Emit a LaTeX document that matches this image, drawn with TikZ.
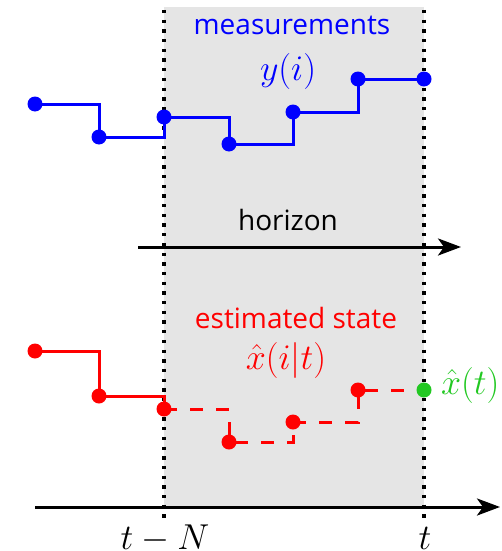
\RequirePackage{fix-cm}
\documentclass[tikz,border=0pt]{standalone}
\usepackage{fontspec}
\newfontfamily\sansfnt{Open Sans}
\usetikzlibrary{arrows.meta}
\definecolor{mygreen}{RGB}{34,200,34}
\definecolor{winfill}{RGB}{229,229,229}
\tikzset{
  dotpt/.style={circle, fill=#1, inner sep=0pt, minimum size=15pt},
  stepline/.style={draw=#1, line width=3pt},
  guide/.style={line width=3.3pt, dash pattern=on 3.3pt off 6.4pt},
  axisline/.style={line width=3pt, -{Stealth[length=23pt,width=17pt,inset=6pt]}},
  txt/.style={font=\sansfnt\fontsize{28}{34}\selectfont, anchor=base, inner sep=0pt},
  mth/.style={font=\fontsize{36}{43}\selectfont, anchor=base, inner sep=0pt}
}
\begin{document}
\begin{tikzpicture}[x=1pt,y=-1pt]
\useasboundingbox (0,0) rectangle (502,551);
% horizon window
\fill[winfill] (164,7) rectangle (424,507);
\coordinate (gl1) at (164,10); \coordinate (gl2) at (164,520);
\coordinate (gr1) at (424,10); \coordinate (gr2) at (424,520);
\draw[guide] (gl1) -- (gl2);
\draw[guide] (gr1) -- (gr2);
% measurements
\coordinate (b1) at (35,104);
\coordinate (b2) at (99,137);
\coordinate (b3) at (164,117);
\coordinate (b4) at (229,144);
\coordinate (b5) at (293,112);
\coordinate (b6) at (358,79);
\coordinate (b7) at (424,79);
\draw[stepline=blue] (b1) -| (b2) -| (b3) -| (b4) -| (b5) -| (b6) -- (b7);
% estimated state
\coordinate (r1) at (35,351);
\coordinate (r2) at (99,396);
\coordinate (r3) at (164,409);
\coordinate (r4) at (229,442);
\coordinate (r5) at (293,422);
\coordinate (r6) at (358,390);
\coordinate (g1) at (424,390);
\draw[stepline=red] (r1) -| (r2) -| (r3);
\draw[stepline=red, dash pattern=on 13pt off 13pt] (r3) -| (r4) -| (r5) -| (r6) -- (g1);
% axes
\coordinate (h1) at (138,247); \coordinate (h2) at (461,247);
\draw[axisline] (h1) -- (h2);
\coordinate (a1) at (35,507); \coordinate (a2) at (500,507);
\draw[axisline] (a1) -- (a2);
% dots
\foreach \p in {b1,b2,b3,b4,b5,b6,b7} \node[dotpt=blue] (d\p) at (\p) {};
\foreach \p in {r1,r2,r3,r4,r5,r6} \node[dotpt=red] (d\p) at (\p) {};
\node[dotpt=mygreen] (dg1) at (g1) {};
% labels
\node[txt, text=blue] (lmeas) at (292,35) {measurements};
\node[mth, text=blue] (ly) at (288,81) {$y(i)$};
\node[txt, text=black] (lhor) at (288,230) {horizon};
\node[txt, text=red] (lest) at (296,328) {estimated state};
\node[mth, text=red] (lx) at (286,369) {$\hat{x}(i|t)$};
\node[mth, text=mygreen, anchor=base west] (lxt) at (441,394) {$\hat{x}(t)$};
\node[mth] (ltn) at (165,549) {$t-N$};
\node[mth] (lt) at (425,549) {$t$};
\end{tikzpicture}
\end{document}
